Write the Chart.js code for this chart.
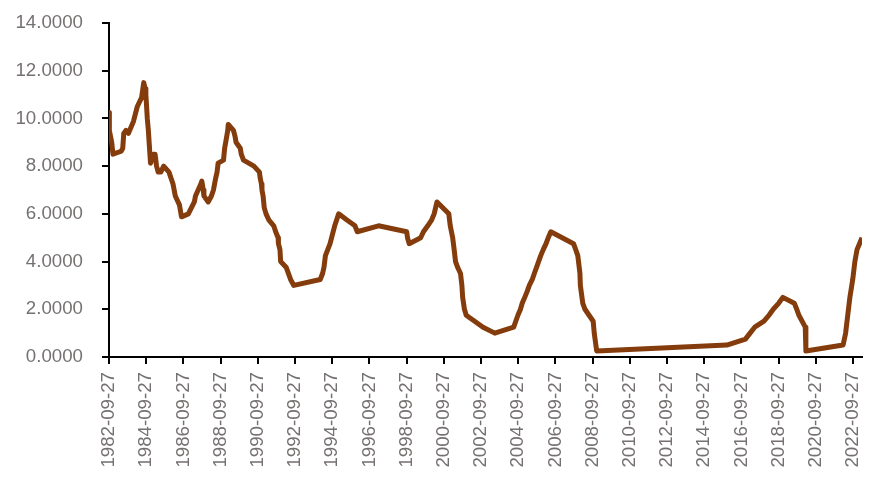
<!DOCTYPE html>
<html>
<head>
<meta charset="utf-8">
<script src="https://cdn.jsdelivr.net/npm/chart.js@4/dist/chart.umd.min.js"></script>
<style>
  html, body { margin: 0; padding: 0; background: #fff; }
  #wrap { width: 885px; height: 488px; position: relative; }
</style>
</head>
<body>
<div id="wrap"><canvas id="chart_rate"></canvas></div>
<script>
// change dates and target rate (%), one line per period
var rateDates = [
  '1982-09-27', '1982-10-01', '1982-10-07', '1982-11-19', '1982-12-14',
  '1983-05-25', '1983-06-24', '1983-07-14', '1983-08-25', '1983-10-14',
  '1984-01-20', '1984-04-05', '1984-06-28', '1984-08-09', '1984-09-06', '1984-09-20', '1984-10-18', '1984-11-08', '1984-11-23', '1984-12-20',
  '1985-01-10', '1985-02-14', '1985-03-20', '1985-04-18', '1985-05-20', '1985-07-10', '1985-09-05', '1985-12-18',
  '1986-03-07', '1986-04-21', '1986-07-11', '1986-08-21',
  '1987-01-02', '1987-04-30', '1987-05-22', '1987-09-04', '1987-09-24', '1987-10-22', '1987-11-04',
  '1988-01-28', '1988-03-30', '1988-05-09', '1988-06-22', '1988-07-19', '1988-08-09', '1988-11-22', '1988-12-15',
  '1989-01-05', '1989-02-14', '1989-02-24', '1989-06-06', '1989-07-07', '1989-07-27', '1989-10-18', '1989-11-06', '1989-12-20',
  '1990-07-13', '1990-10-29', '1990-11-13', '1990-12-07', '1990-12-18',
  '1991-01-09', '1991-02-01', '1991-03-08', '1991-04-30', '1991-08-06', '1991-09-13', '1991-10-31', '1991-11-06', '1991-12-06', '1991-12-20',
  '1992-04-09', '1992-07-02', '1992-09-04',
  '1994-02-04', '1994-03-22', '1994-04-18', '1994-05-17', '1994-08-16', '1994-11-15',
  '1995-02-01', '1995-07-06', '1995-12-19',
  '1996-01-31', '1997-03-25',
  '1998-09-29', '1998-10-15', '1998-11-17',
  '1999-06-30', '1999-08-24', '1999-11-16',
  '2000-02-02', '2000-03-21', '2000-05-16',
  '2001-01-03', '2001-01-31', '2001-03-20', '2001-04-18', '2001-05-15', '2001-06-27', '2001-08-21', '2001-09-17', '2001-10-02', '2001-11-06', '2001-12-11',
  '2002-11-06', '2003-06-25',
  '2004-06-30', '2004-08-10', '2004-09-21', '2004-11-10', '2004-12-14',
  '2005-02-02', '2005-03-22', '2005-05-03', '2005-06-30', '2005-08-09', '2005-09-20', '2005-11-01', '2005-12-13',
  '2006-01-31', '2006-03-28', '2006-05-10', '2006-06-29',
  '2007-09-18', '2007-10-31', '2007-12-11',
  '2008-01-22', '2008-01-30', '2008-03-18', '2008-04-30', '2008-10-08', '2008-10-29', '2008-12-16',
  '2015-12-17', '2016-12-15', '2017-03-16', '2017-06-15', '2017-12-14', '2018-03-22', '2018-06-14', '2018-09-27', '2018-12-20',
  '2019-08-01', '2019-09-19', '2019-10-31', '2020-03-04', '2020-03-16',
  '2022-03-17', '2022-05-05', '2022-06-16', '2022-07-28', '2022-09-22', '2022-11-03', '2022-12-15', '2023-02-02', '2023-03-23'
];

var rateValues = [
  10.25, 10.0, 9.5, 9.0, 8.5,
  8.625, 8.75, 9.375, 9.5, 9.375,
  9.875, 10.5, 10.875, 11.5, 11.25, 11.0, 10.0, 9.5, 9.0, 8.125,
  8.25, 8.5, 8.5, 8.0, 7.75, 7.75, 8.0, 7.75,
  7.25, 6.75, 6.375, 5.875,
  6.0, 6.5, 6.75, 7.25, 7.375, 7.0, 6.75,
  6.5, 6.75, 7.0, 7.5, 7.75, 8.125, 8.25, 8.75,
  9.0, 9.5, 9.75, 9.5, 9.25, 9.0, 8.75, 8.5, 8.25,
  8.0, 7.75, 7.5, 7.25, 7.0,
  6.75, 6.25, 6.0, 5.75, 5.5, 5.25, 5.0, 4.75, 4.5, 4.0,
  3.75, 3.25, 3.0,
  3.25, 3.5, 3.75, 4.25, 4.75, 5.5,
  6.0, 5.75, 5.5,
  5.25, 5.5,
  5.25, 5.0, 4.75,
  5.0, 5.25, 5.5,
  5.75, 6.0, 6.5,
  6.0, 5.5, 5.0, 4.5, 4.0, 3.75, 3.5, 3.0, 2.5, 2.0, 1.75,
  1.25, 1.0,
  1.25, 1.5, 1.75, 2.0, 2.25,
  2.5, 2.75, 3.0, 3.25, 3.5, 3.75, 4.0, 4.25,
  4.5, 4.75, 5.0, 5.25,
  4.75, 4.5, 4.25,
  3.5, 3.0, 2.25, 2.0, 1.5, 1.0, 0.25,
  0.5, 0.75, 1.0, 1.25, 1.5, 1.75, 2.0, 2.25, 2.5,
  2.25, 2.0, 1.75, 1.25, 0.25,
  0.5, 1.0, 1.75, 2.5, 3.25, 4.0, 4.5, 4.75, 5.0
];

var xTickLabels = [
  '1982-09-27', '1984-09-27', '1986-09-27', '1988-09-27', '1990-09-27', '1992-09-27', '1994-09-27',
  '1996-09-27', '1998-09-27', '2000-09-27', '2002-09-27', '2004-09-27', '2006-09-27', '2008-09-27',
  '2010-09-27', '2012-09-27', '2014-09-27', '2016-09-27', '2018-09-27', '2020-09-27', '2022-09-27'
];

var yTickValues = [0, 2, 4, 6, 8, 10, 12, 14];

function toDay(s) {
  var p = s.split('-');
  return Date.UTC(+p[0], +p[1] - 1, +p[2]) / 86400000;
}

function dayToLabel(v) {
  var d = new Date(v * 86400000);
  var m = ('0' + (d.getUTCMonth() + 1)).slice(-2);
  var dd = ('0' + d.getUTCDate()).slice(-2);
  return d.getUTCFullYear() + '-' + m + '-' + dd;
}

function createRateChart() {
  var points = [];
  for (var i = 0; i < rateDates.length; i++) {
    points.push({ x: toDay(rateDates[i]), y: rateValues[i] });
  }

  var tickFont = { family: "'Liberation Sans', Arial, sans-serif", size: 18.7 };
  var tickColor = '#767171';

  new Chart(document.getElementById('chart_rate'), {
    type: 'line',
    data: {
      datasets: [{
        label: 'rate',
        data: points,
        borderColor: '#843C0C',
        backgroundColor: '#843C0C',
        borderWidth: 5,
        borderJoinStyle: 'round',
        pointRadius: 0,
        tension: 0,
        fill: false
      }]
    },
    options: {
      responsive: true,
      maintainAspectRatio: false,
      animation: false,
      layout: { padding: { top: 23, right: 23, left: 0, bottom: 0 } },
      plugins: {
        legend: { display: false },
        tooltip: { enabled: false }
      },
      scales: {
        x: {
          type: 'linear',
          min: toDay(rateDates[0]),
          max: toDay(rateDates[rateDates.length - 1]),
          afterBuildTicks: function (scale) {
            scale.ticks = xTickLabels.map(function (s) { return { value: toDay(s) }; });
          },
          afterFit: function (scale) {
            scale.height = 131;
            scale.paddingLeft = 0;
            scale.paddingRight = 0;
          },
          ticks: {
            autoSkip: false,
            minRotation: 90,
            maxRotation: 90,
            padding: 8,
            color: tickColor,
            font: tickFont,
            callback: function (v) { return dayToLabel(v); }
          },
          grid: { drawOnChartArea: false, drawTicks: true, tickLength: 7, color: '#000', lineWidth: 2 },
          border: { display: true, color: '#000', width: 2 }
        },
        y: {
          min: 0,
          max: 14,
          afterBuildTicks: function (scale) {
            scale.ticks = yTickValues.map(function (v) { return { value: v }; });
          },
          afterFit: function (scale) {
            scale.width = 109;
            scale.paddingTop = 0;
            scale.paddingBottom = 0;
          },
          ticks: {
            padding: 19,
            color: tickColor,
            font: tickFont,
            callback: function (v) { return Number(v).toFixed(4); }
          },
          grid: { drawOnChartArea: false, drawTicks: true, tickLength: 7, color: '#000', lineWidth: 2 },
          border: { display: true, color: '#000', width: 2 }
        }
      }
    }
  });
}

createRateChart();
</script>
</body>
</html>
